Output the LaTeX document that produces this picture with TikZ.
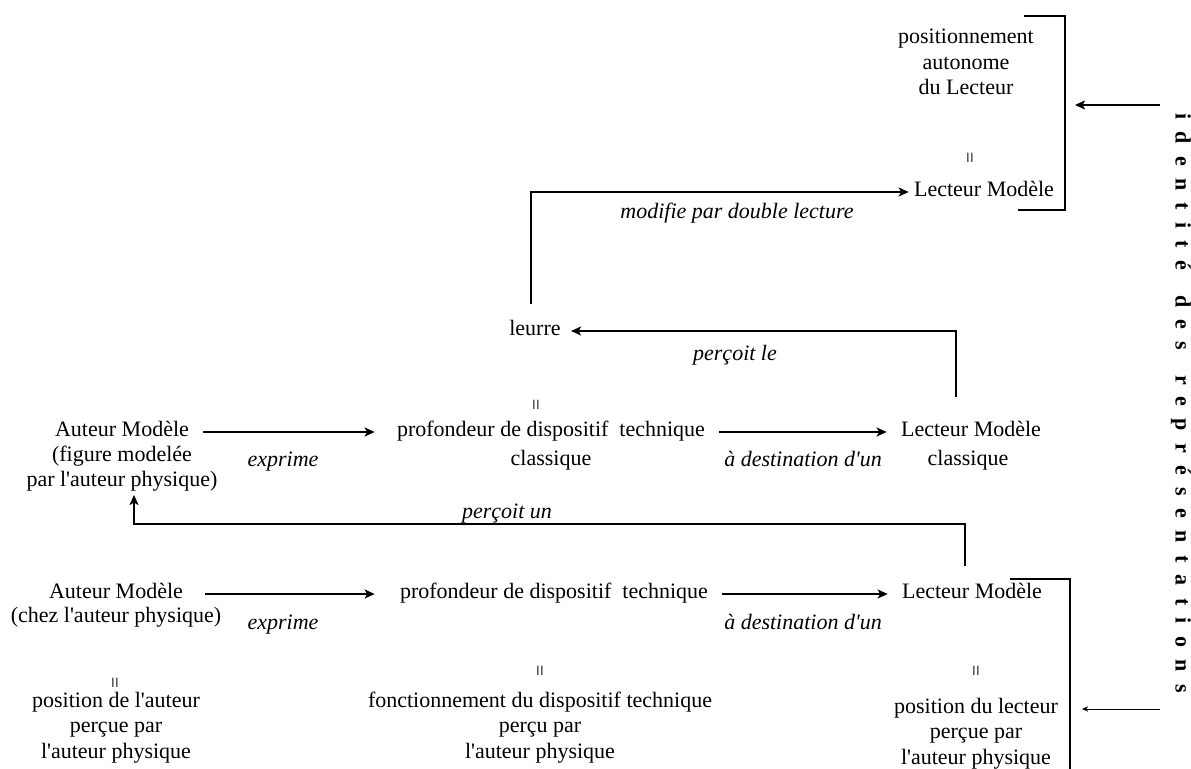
\documentclass[tikz,border=0pt]{standalone}
\usepackage{fontspec}
\setmainfont{Liberation Serif}[Ligatures=TeXOff]
\usetikzlibrary{arrows.meta}
\tikzset{
  txt/.style={font=\fontsize{11}{12.75}\selectfont, inner sep=0pt, text height=0.7em, text depth=0.22em},
  box/.style={txt, inner xsep=7pt},
  blk/.style={font=\fontsize{11}{12.75}\selectfont, inner sep=0pt, align=center, anchor=north},
  rel/.style={txt, font=\fontsize{11}{12.75}\selectfont\itshape},
  eqv/.style={font=\fontsize{10}{10}\selectfont, inner sep=0pt, rotate=90},
  arr/.style={-{Stealth[length=5pt,width=4.5pt,inset=1.2pt]}, line width=0.9pt},
  thinarr/.style={-{Stealth[length=3pt,width=2.6pt,inset=0.8pt]}, line width=0.4pt},
  brk/.style={line width=0.9pt},
}

\begin{document}
\begin{tikzpicture}[x=0.5pt, y=-0.5pt]
        \useasboundingbox (0,0) rectangle (1191,769);
        % haut : lecteur autonome
        \node[blk] (auto) at (966,29) {positionnement\\autonome\\du Lecteur};
        \node[eqv] (eq0) at (972,158) {=};
        \node[txt] (lmt) at (984,192) {Lecteur Modèle};
        \coordinate (bt1) at (1024,16);
        \coordinate (bt2) at (1065,16);
        \coordinate (bt3) at (1065,210);
        \coordinate (bt4) at (1018,210);
        \draw[brk] (bt1) -- (bt2) -- (bt3) -- (bt4);
        \coordinate (in1) at (1160,105);
        \coordinate (out1) at (1075,105);
        \draw[arr] (in1) -- (out1);

        % leurre
        \node[txt] (leurre) at (535,331) {leurre};
        \node[rel] (mod) at (737,214) {modifie par double lecture};
        \node[rel] (plr) at (735,356) {perçoit le};
        \node[eqv] (eq1) at (538,405) {=};

        % rangee classique
        \node[box] (am1) at (122,432) {Auteur Modèle};
        \node[blk] (am1b) at (122,445.5) {(figure modelée\\par l'auteur physique)};
        \node[box] (pdt1) at (551,432) {profondeur de dispositif\ \ technique};
        \node[txt] (pdt1b) at (551,461) {classique};
        \node[box] (lmc) at (971,432) {Lecteur Modèle};
        \node[txt] (lmcb) at (968,461) {classique};
        \node[rel] (ex1) at (283,462) {exprime};
        \node[rel] (ad1) at (803,462) {à destination d'un};

        \node[rel] (pun) at (507,514) {perçoit un};

        % rangee physique
        \node[box] (am2) at (116,594) {Auteur Modèle};
        \node[txt] (am2b) at (116,618) {(chez l'auteur physique)};
        \node[box] (pdt2) at (554,594) {profondeur de dispositif\ \ technique};
        \node[box] (lml) at (972,594) {Lecteur Modèle};
        \node[rel] (ex2) at (283,625) {exprime};
        \node[rel] (ad2) at (803,625) {à destination d'un};

        \node[eqv] (eq2) at (117,683) {=};
        \node[eqv] (eq3) at (542,671) {=};
        \node[eqv] (eq4) at (978,671) {=};
        \node[blk] (pa) at (116,691.5) {position de l'auteur\\perçue par\\l'auteur physique};
        \node[blk] (fdt) at (540,691.5) {fonctionnement du dispositif technique\\perçu par\\l'auteur physique};
        \node[blk] (pl) at (976,697.5) {position du lecteur\\perçue par\\l'auteur physique};

        \coordinate (bb1) at (1010,579);
        \coordinate (bb2) at (1070,579);
        \coordinate (bb3) at (1070,769);
        \draw[brk] (bb1) -- (bb2) -- (bb3);
        \coordinate (in2) at (1160,709);
        \coordinate (out2) at (1082,709);
        \draw[thinarr] (in2) -- (out2);

        \node[rotate=-90, inner sep=0pt, font=\fontsize{11}{13}\selectfont\bfseries\addfontfeature{LetterSpace=56}] (ident) at (1181,403) {identité \hspace{3.5pt}des \hspace{3.5pt}représentations};

        % fleches
        \draw[arr, shorten >=4pt] (am1) -- (pdt1);
        \draw[arr] (pdt1) -- (lmc);
        \draw[arr, shorten <=4pt, shorten >=5.5pt] (am2) -- (pdt2);
        \draw[arr] (pdt2) -- (lml);
        \draw[arr, shorten <=8.5pt, shorten >=2.5pt] ([xshift=-2pt]leurre.north) |- (lmt);
        \draw[arr, shorten <=12.5pt, shorten >=5pt] ([xshift=-7.5pt]lmc.north) |- (leurre);
        \draw[arr, shorten <=9pt, shorten >=1.5pt] ([xshift=-3.5pt]lml.north) -- ++(0,-60) -| ([xshift=6pt]am1b.south);
\end{tikzpicture}
\end{document}
